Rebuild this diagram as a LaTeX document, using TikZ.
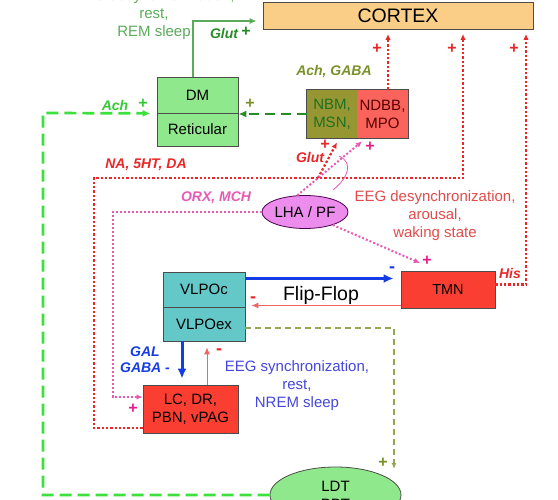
\documentclass[tikz,border=0pt]{standalone}
\usepackage{fontspec}
\setmainfont{Liberation Sans}
\usetikzlibrary{shapes.geometric}
\usetikzlibrary{arrows.meta}
\definecolor{cortexfill}{RGB}{250,206,135}
\definecolor{dmgreen}{RGB}{144,232,140}
\definecolor{nbmolive}{RGB}{150,150,50}
\definecolor{ndbbred}{RGB}{250,100,92}
\definecolor{lhaviolet}{RGB}{236,140,236}
\definecolor{tmnred}{RGB}{250,62,50}
\definecolor{vlpoteal}{RGB}{100,200,200}
\definecolor{achgreen}{RGB}{60,225,60}
\definecolor{dkgreen}{RGB}{40,140,40}
\definecolor{remgreen}{RGB}{90,170,90}
\definecolor{olivetxt}{RGB}{120,145,40}
\definecolor{nared}{RGB}{232,40,40}
\definecolor{orxpink}{RGB}{230,90,180}
\definecolor{plusmag}{RGB}{230,30,140}
\definecolor{flipblue}{RGB}{20,60,230}
\definecolor{syncblue}{RGB}{70,70,220}
\definecolor{thinred}{RGB}{240,100,100}
\definecolor{wakered}{RGB}{225,75,75}
\tikzset{box/.style={draw=black!70, line width=0.8pt, inner sep=0pt, font=\fontsize{15}{18}\selectfont},
% bold italic labels
lab/.style={font=\fontsize{14}{16}\selectfont\bfseries\itshape, inner sep=0pt},
plus/.style={font=\fontsize{16}{16}\selectfont\bfseries, inner sep=0pt},
minus/.style={font=\fontsize{18}{18}\selectfont\bfseries, inner sep=0pt},
txt/.style={font=\fontsize{15}{18}\selectfont, inner sep=0pt, align=center},
nadot/.style={draw=nared, line width=2.3pt, dash pattern=on 2.3pt off 2pt, -{Latex[length=6pt,width=5.5pt]}},
orxdot/.style={draw=orxpink, line width=2pt, dash pattern=on 2pt off 2pt, -{Latex[length=6pt,width=5.5pt]}},
bluearrow/.style={draw=flipblue, line width=3pt, -{Latex[length=10pt,width=9pt]}},
redthin/.style={draw=thinred, line width=1pt, -{Latex[length=7pt,width=6pt]}}}

\begin{document}
\begin{tikzpicture}[x=1pt,y=-1pt]
\useasboundingbox (0,0) rectangle (558,500);
% boxes
\node[box, fill=cortexfill, minimum width=270pt, minimum height=27pt, font=\fontsize{19.5}{22}\selectfont] (cortex) at (398,15.5) {CORTEX};
\node[box, fill=dmgreen, minimum width=81pt, minimum height=36pt] (dm) at (197.5,95) {DM};
\node[box, fill=dmgreen, minimum width=81pt, minimum height=33pt] (ret) at (197.5,129.5) {Reticular};
\node[box, draw=none, fill=nbmolive, minimum width=50pt, minimum height=48pt, text=dkgreen!80!black, align=center] (nbm) at (332,114) {NBM,\\MSN,};
\node[box, draw=none, fill=ndbbred, minimum width=51pt, minimum height=48pt, text=red!35!black, align=center] (ndbb) at (382.5,114) {NDBB,\\MPO};
\draw[draw=black!70, line width=0.8pt] (nbm.north west) rectangle (ndbb.south east);
\node[box, ellipse, draw=violet!60!black, fill=lhaviolet, minimum width=84pt, minimum height=33pt] (lha) at (305,212) {LHA / PF};
\node[box, fill=tmnred, minimum width=94pt, minimum height=37pt, font=\fontsize{14.5}{17}\selectfont] (tmn) at (448,289.5) {TMN};
\node[box, fill=vlpoteal, minimum width=82pt, minimum height=35pt] (vlpoc) at (204,289.5) {VLPOc};
\node[box, fill=vlpoteal, minimum width=82pt, minimum height=34pt] (vlpoex) at (204,324) {VLPOex};
\node[box, fill=tmnred, minimum width=95pt, minimum height=48pt, align=center] (lc) at (190.5,409) {LC, DR,\\PBN, vPAG};
\node[box, ellipse, fill=dmgreen, minimum width=131pt, minimum height=56pt, align=center] (ldt) at (335.5,495) {LDT\\PPT};

% bends and ends
\coordinate (achbend) at (43,113);
\coordinate (nabend) at (94,178);
\coordinate (glutfoot) at (318,178);
\coordinate (orxbend) at (113,212);
\coordinate (cxa) at (388,29);
\coordinate (cxb) at (463,29);
\coordinate (cxc) at (526,29);
\coordinate (tmnin) at (420,263);
\coordinate (ldtin) at (394,469);

% green
\draw[draw=remgreen, line width=1.2pt, -{Latex[length=7pt,width=6pt]}, shorten >=6pt] ([xshift=-4.5pt]dm.north) |- ([yshift=-5.5pt]cortex.west);
\draw[draw=achgreen, line width=2.7pt, dash pattern=on 12pt off 6pt, -{Latex[length=8pt,width=7pt]}, shorten >=6pt] (ldt.west) -| (achbend) -- (dm.south west);
\draw[draw=dkgreen, line width=2.5pt, dash pattern=on 10pt off 6pt, -{Latex[length=8pt,width=7pt]}] (nbm.west) -- (nbm.west -| ret.east);

% red dotted to cortex
\draw[nadot, shorten >=5pt] ([xshift=5.5pt]ndbb.north) -- (cxa);
\draw[nadot, shorten >=5pt] ([yshift=-19pt]lc.west) -| (nabend) -| (cxb);
\draw[nadot, shorten >=5pt] ([yshift=5pt]tmn.east) -| (cxc);
\draw[nadot] (glutfoot) -- ([xshift=5pt,yshift=-4pt]nbm.south);

% pink dotted
\draw[orxdot] (lha.115) -- ([xshift=-20.5pt,yshift=-3pt]ndbb.south);
\draw[orxdot] (lha.west) -- (orxbend) |- ([yshift=12pt]lc.west);
\draw[orxdot] (lha.-25) -- (tmnin);
\draw[draw=orxpink, line width=0.8pt] (339,156) .. controls (354,163) and (348,178) .. (333,190);

% flip-flop
\draw[bluearrow, shorten >=7pt] ([yshift=11pt]vlpoc.east) -- ([yshift=11pt]tmn.west);
\draw[redthin, shorten >=6pt] ([yshift=-16pt]tmn.west) -- ([yshift=-16pt]vlpoc.east);
\draw[bluearrow, shorten >=6pt] ([xshift=-22pt]vlpoex.south) -- ([xshift=-8.5pt]lc.north);
\draw[redthin, shorten >=6pt] ([xshift=16.5pt]lc.north) -- ([xshift=3pt]vlpoex.south);
\draw[draw=olivetxt!80, line width=1.6pt, dash pattern=on 6pt off 4pt, -{Latex[length=6pt,width=5pt]}] ([yshift=-4pt]vlpoex.east) -| (ldtin);

%labels
\node[txt, text=remgreen] (remtxt) at (154,15) {EEG desynchronization,\\rest,\\REM sleep};
\node[lab, text=dkgreen] (glutg) at (224,33) {Glut};
\node[plus, text=dkgreen] (glutgplus) at (246,32) {+};
\node[lab, text=achgreen!90!black] (achlab) at (115,105) {Ach};
\node[plus, text=achgreen!90!black] (achplus) at (143,104) {+};
\node[plus, text=olivetxt] (dmplus) at (250,104) {+};
\node[lab, text=olivetxt] (achgaba) at (334,72) {Ach, GABA};
\foreach \px/\nm in {377/pa,452/pb,514/pc}
  \node[plus, text=nared] (\nm) at (\px,49) {+};
\node[lab, text=nared] (glutr) at (310,157) {Glut};
\node[plus, text=nared] (glutplus) at (325,145) {+};
\node[plus, text=plusmag] (lhaplus) at (370,147) {+};
\node[lab, text=nared] (natxt) at (146,165) {NA, 5HT, DA};
\node[lab, text=orxpink] (orxtxt) at (216,198) {ORX, MCH};
\node[txt, text=wakered] (waketxt) at (435,216) {EEG desynchronization,\\arousal,\\waking state};
\node[plus, text=plusmag] (tmnplus) at (427,261) {+};
\node[lab, text=nared] (histxt) at (510,273) {His};
\node[minus, text=flipblue] (bminus) at (392,270) {-};
\node[minus, text=nared] (rminus) at (253,300) {-};
\node[txt, font=\fontsize{19.5}{22}\selectfont] (flip) at (321,295) {Flip-Flop};
\node[plus, text=olivetxt] (ldtplus) at (383,463) {+};
\node[lab, text=flipblue, align=center] (galtxt) at (145,360) {GAL\\GABA -};
\node[minus, text=nared] (lcminus) at (219,352) {-};
\node[txt, text=syncblue] (synctxt) at (297,386) {EEG synchronization,\\rest,\\NREM sleep};
\node[plus, text=plusmag] (lcplus) at (133,409) {+};
\end{tikzpicture}
\end{document}
